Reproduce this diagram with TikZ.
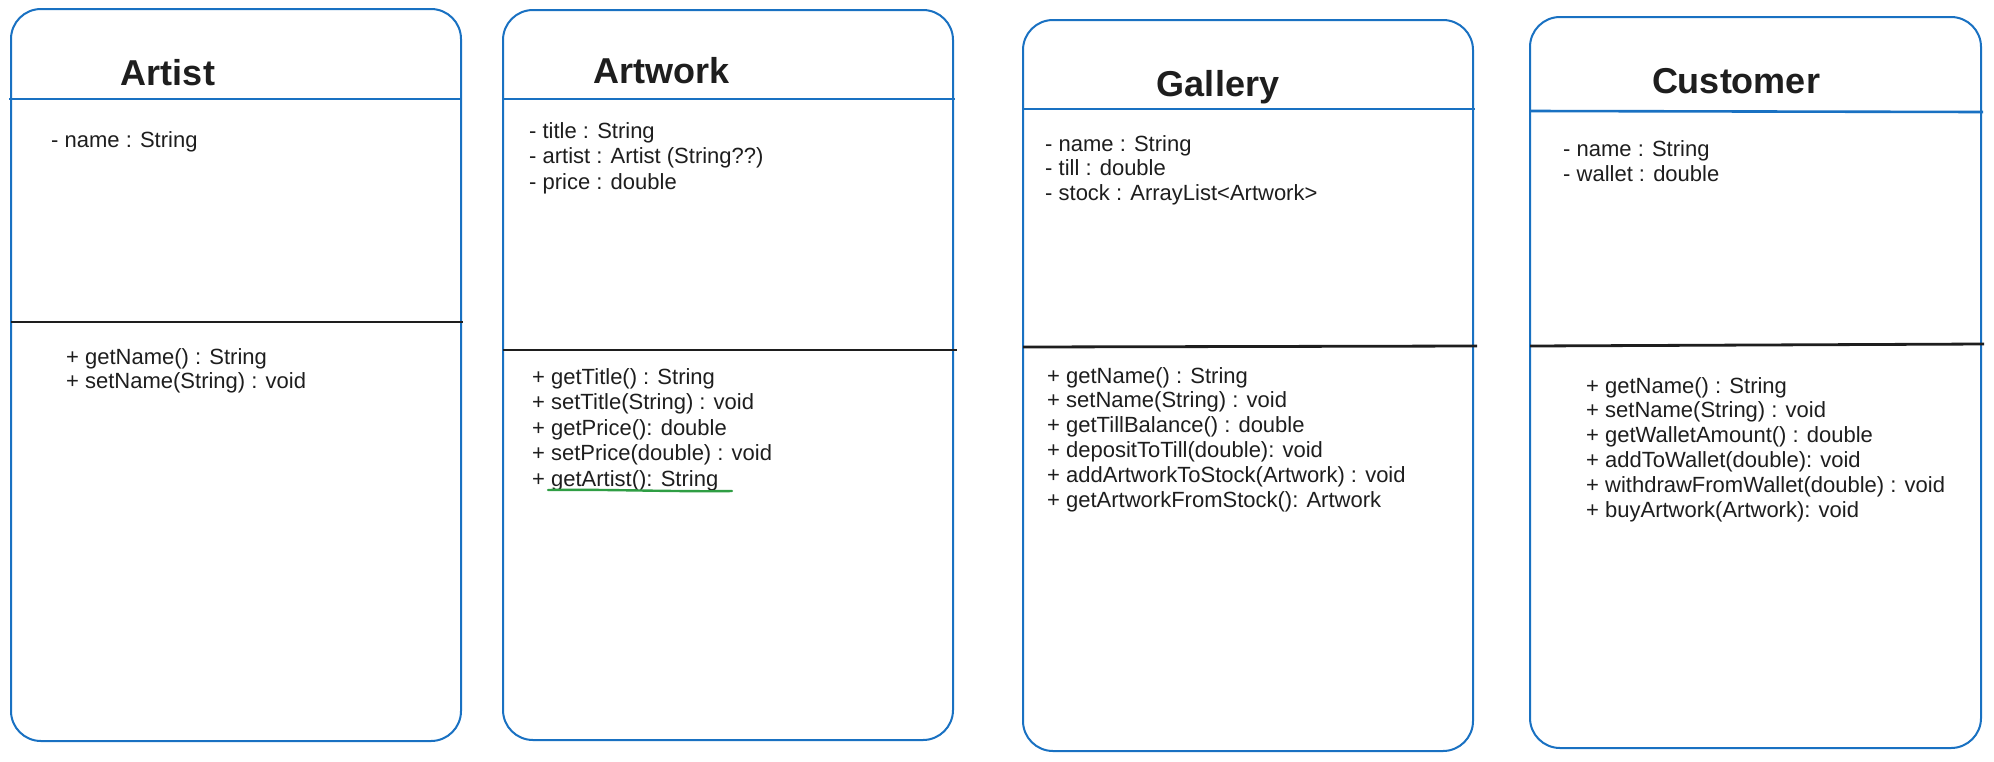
\documentclass[tikz,border=0pt]{standalone}
\usepackage{fontspec}
\setmainfont{Liberation Sans}
\definecolor{exblue}{HTML}{1971C2}
\definecolor{exink}{HTML}{1E1E1E}
\definecolor{exgreen}{HTML}{2F9E44}
\begin{document}
\begin{tikzpicture}[x=1pt,y=-1pt,
  classbox/.style={draw=exblue, line width=2pt, rounded corners=30pt},
  titlerule/.style={draw=exblue, line width=2.6pt},
  sectrule/.style={draw=exink, line width=2.8pt},
  classtitle/.style={anchor=base, inner sep=0pt, text=exink, font=\fontsize{36}{40}\selectfont\bfseries},
  members/.style={anchor=north west, inner sep=0pt, align=left, text=exink, font=\fontsize{22}{#1}\selectfont},
  members/.default=24.3,
  markline/.style={draw=exgreen, line width=2.4pt, line cap=round},
]
\useasboundingbox[fill=white] (0,0) rectangle (1994,761);

% ---------- Artist ----------
\draw[classbox] (11,9) rectangle (461,741);
\draw[titlerule] (9,99) -- (461,99);
\draw[sectrule] (11,322) -- (463,322);
\node[classtitle] (artistT) at (168,85) {Artist};
\node[members] (artistA) at (51,131) {- name : String};
\node[members=24] (artistM) at (66,348) {+ getName() : String\\+ setName(String) : void};

% ---------- Artwork ----------
\draw[classbox] (503,10) rectangle (953,740);
\draw[titlerule] (503,99) -- (955,99);
\draw[sectrule] (503,350) -- (957,350);
\node[classtitle] (artworkT) at (662,83) {Artwork};
\node[members=25.5] (artworkA) at (529,122) {- title : String\\- artist : Artist (String??)\\- price : double};
\node[members=25.5] (artworkM) at (532,368) {+ getTitle() : String\\+ setTitle(String) : void\\+ getPrice(): double\\+ setPrice(double) : void\\+ getArtist(): String};
\coordinate (ulA) at (548,490);
\coordinate (ulB) at (732,491);
\draw[markline] (ulA) .. controls (600,489) and (680,492) .. (ulB);

% ---------- Gallery ----------
\draw[classbox] (1023,20) rectangle (1473,751);
\draw[titlerule] (1023,109) -- (1475,109);
\draw[sectrule] (1023,347) -- (1477,346);
\node[classtitle] (galleryT) at (1218,96) {Gallery};
\node[members=24.6] (galleryA) at (1045,135) {- name : String\\- till : double\\- stock : ArrayList<Artwork>};
\node[members=24.8] (galleryM) at (1047,367) {+ getName() : String\\+ setName(String) : void\\+ getTillBalance() : double\\+ depositToTill(double): void\\+ addArtworkToStock(Artwork) : void\\+ getArtworkFromStock(): Artwork};

% ---------- Customer ----------
\draw[classbox] (1530,17) rectangle (1981,748);
\draw[titlerule] (1530,111) -- (1983,112);
\draw[sectrule] (1530,346) -- (1984,344);
\node[classtitle] (customerT) at (1736,93) {Customer};
\node[members=25] (customerA) at (1563,140) {- name : String\\- wallet : double};
\node[members=24.8] (customerM) at (1586,377) {+ getName() : String\\+ setName(String) : void\\+ getWalletAmount() : double\\+ addToWallet(double): void\\+ withdrawFromWallet(double) : void\\+ buyArtwork(Artwork): void};
\end{tikzpicture}
\end{document}
